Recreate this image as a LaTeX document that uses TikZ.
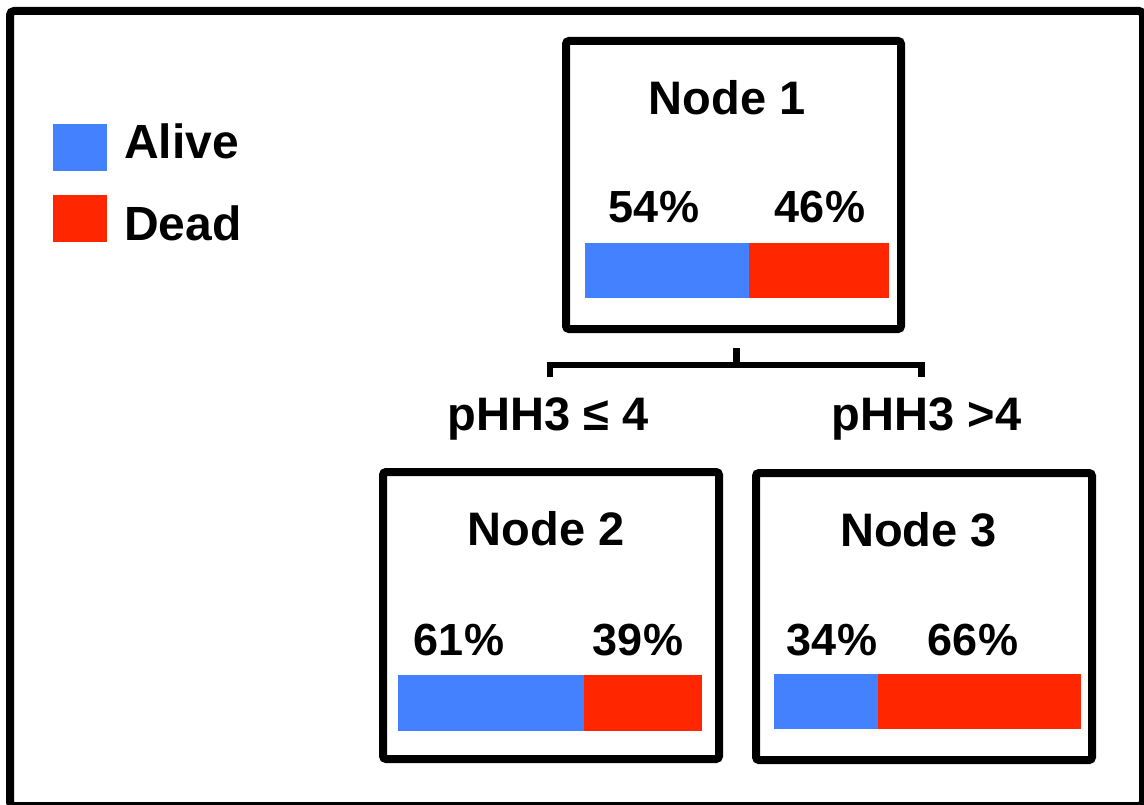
\documentclass[tikz,border=0pt]{standalone}
\usepackage{fontspec}
\setmainfont{Liberation Sans}
\definecolor{alive}{HTML}{4381FF}
\definecolor{dead}{HTML}{FF2600}
\tikzset{
  treebox/.style={draw=black, line width=8pt, rounded corners=3pt, fill=white, inner sep=0pt},
  lbl/.style={anchor=base, inner sep=0pt, font=\bfseries\fontsize{47}{56}\selectfont},
  pct/.style={anchor=base, inner sep=0pt, font=\bfseries\fontsize{45}{54}\selectfont},
  leg/.style={anchor=base west, inner sep=0pt, font=\bfseries\fontsize{48}{57}\selectfont},
  bracket/.style={draw=black, line width=6.5pt},
}
\begin{document}
\begin{tikzpicture}[x=1pt,y=-1pt]
\useasboundingbox (0,0) rectangle (1144,805);
\clip (0,0) rectangle (1144,805);
\fill[white] (0,0) rectangle (1144,805);
% outer frame
\draw[line width=8pt, rounded corners=4pt] (10,11) rectangle (1143,806);

% legend
\fill[alive] (53,124) rectangle (107,171);
\fill[dead] (53,195) rectangle (107,242);
\node[leg] (legalive) at (124,159) {Alive};
\node[leg] (legdead) at (124,241) {Dead};

% tree nodes
\node[treebox, minimum width=335pt, minimum height=288pt] (n1) at (733.5,185) {};
\node[treebox, minimum width=336pt, minimum height=287pt] (n2) at (551,615.5) {};
\node[treebox, minimum width=336pt, minimum height=287pt] (n3) at (924,616.5) {};

% node 1 content
\node[lbl] (t1) at (727,115) {Node 1};
\node[pct] (p1a) at (654,223) {54\%};
\node[pct] (p1d) at (820,223) {46\%};
\fill[alive] (585,243) rectangle (749,298);
\fill[dead] (749,243) rectangle (889,298);

% node 2 content
\node[lbl] (t2) at (546,545) {Node 2};
\node[pct] (p2a) at (459,655) {61\%};
\node[pct] (p2d) at (638,655) {39\%};
\fill[alive] (398,675) rectangle (584,731);
\fill[dead] (584,675) rectangle (702,731);

% node 3 content
\node[lbl] (t3) at (918.5,546) {Node 3};
\node[pct] (p3a) at (832,655) {34\%};
\node[pct] (p3d) at (973,655) {66\%};
\fill[alive] (774,674) rectangle (878,729);
\fill[dead] (878,674) rectangle (1081,729);

% split bracket
\coordinate (stemtop) at (736.5,348);
\coordinate (stembot) at (736.5,365);
\coordinate (bl) at (550,365);
\coordinate (br) at (921.5,365);
\coordinate (blend) at (550,377);
\coordinate (brend) at (921.5,377);
\draw[bracket] (stemtop) -- (stembot);
\draw[bracket, line join=miter] (blend) -- (bl) -- (br) -- (brend);

% split labels
\node[lbl] (sl) at (548,430) {pHH3 ≤ 4};
\node[lbl] (sr) at (926.5,430) {pHH3 >4};
\end{tikzpicture}
\end{document}
